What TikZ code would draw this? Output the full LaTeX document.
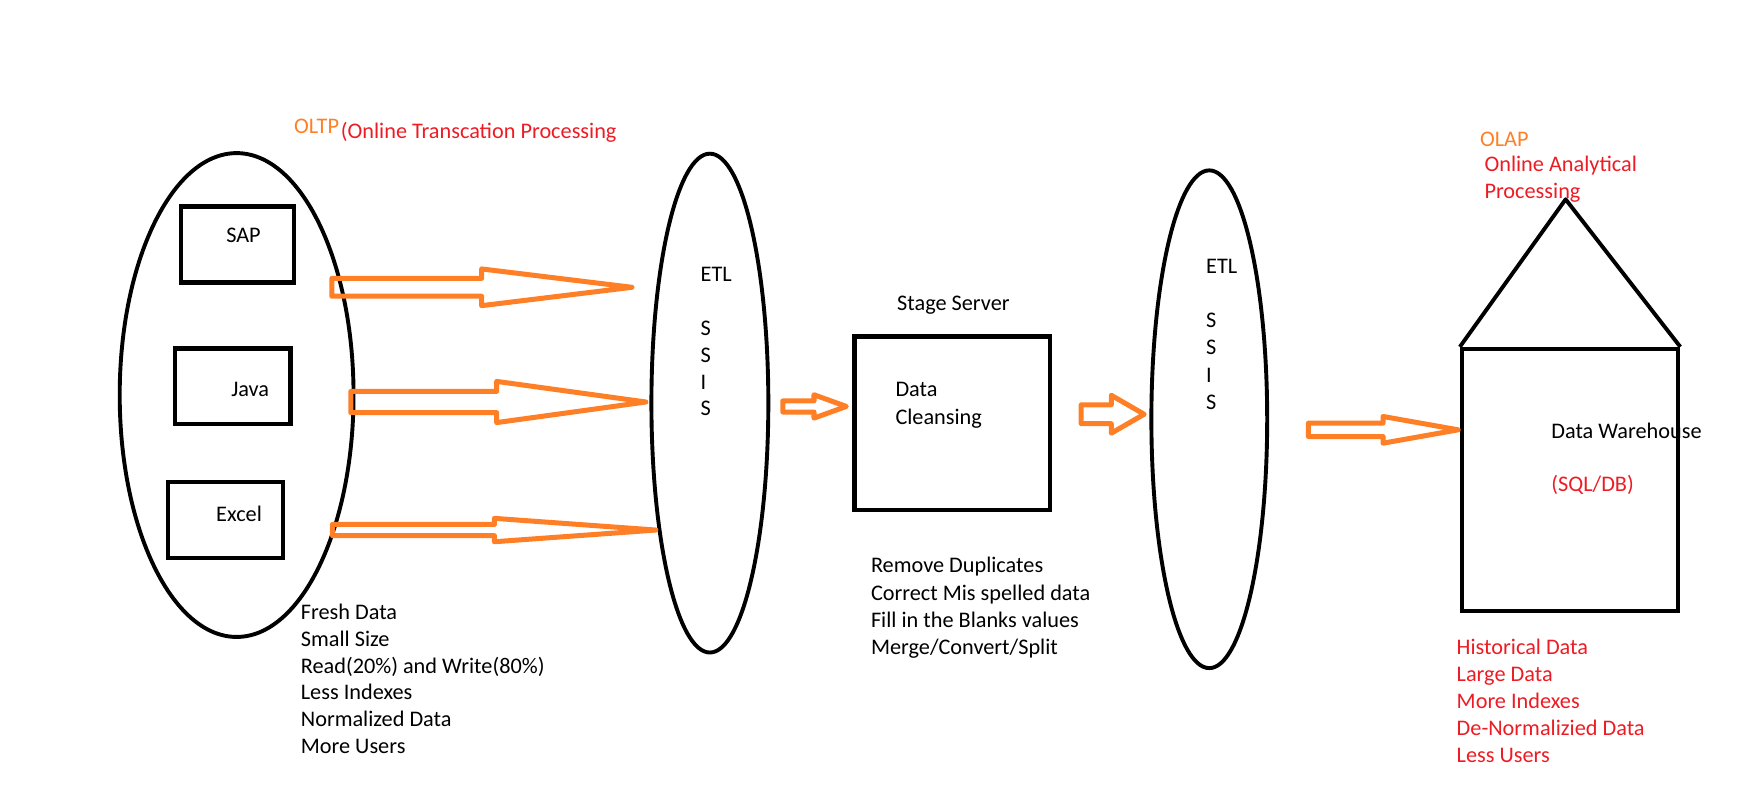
\documentclass[tikz,border=0pt]{standalone}
\usepackage{fontspec}
\setmainfont{Carlito}
\usetikzlibrary{shapes.geometric}
\definecolor{paintorange}{HTML}{FF7F27}
\definecolor{paintred}{HTML}{ED1C24}
\newcommand\blockarr[6]{% x0, x1 (head base), x2 (tip), yc, shaft half, head half
  \draw[blockarrow] (#1,#4+#5) -- (#2,#4+#5) -- (#2,#4+#6) -- (#3,#4) -- (#2,#4-#6) -- (#2,#4-#5) -- (#1,#4-#5) -- cycle;}
\begin{document}
\begin{tikzpicture}[x=1pt,y=-1pt,
  txt/.style={anchor=base west, inner sep=0pt, font=\fontsize{20}{24}\selectfont},
  redtxt/.style={txt, text=paintred},
  orangetxt/.style={txt, text=paintorange},
  oval/.style={ellipse, draw, line width=3.5pt, inner sep=0pt},
  srcbox/.style={rectangle, draw, line width=4pt, inner sep=0pt},
  blockarrow/.style={draw=paintorange, line width=4.5pt, line join=round}
]
\useasboundingbox (0,0) rectangle (1568,705);

% source ellipse and boxes
\node[oval, minimum width=210, minimum height=434.5] (src) at (212.5,354.75) {};
\node[srcbox, minimum width=101.5, minimum height=68] (sapbox) at (213.25,219.6) {};
\node[srcbox, minimum width=104, minimum height=68] (javabox) at (209,347) {};
\node[srcbox, minimum width=103, minimum height=68] (excelbox) at (202.5,467) {};
\node[txt] (sap) at (203,217.5) {SAP};
\node[txt] (java) at (207.5,356.5) {Java};
\node[txt] (excel) at (194,468.5) {Excel};

% OLTP title
\node[orangetxt] (oltp) at (264,120) {OLTP};
\node[redtxt, anchor=base west] (oltpfull) at (306,124) {(Online Transcation Processing};

% OLTP properties
\foreach \t [count=\i] in {Fresh Data, Small Size, Read(20\%) and Write(80\%), Less Indexes, Normalized Data, More Users}
  \node[txt] (oltpprop\i) at (270,556.5+24*\i-24) {\t};

% first ETL
\node[oval, minimum width=105, minimum height=448] (etla) at (637.5,362) {};
\node[txt] (etlaname) at (629,252.5) {ETL};
\foreach \t [count=\i] in {S,S,I,S}
  \node[txt] (etlaletter\i) at (629,301.5+24*\i-24) {\t};

% stage server
\node[srcbox, minimum width=175.5, minimum height=156] (stage) at (855.25,380) {};
\node[txt] (stagename) at (805.5,278.5) {Stage Server};
\node[txt] (dataword) at (804,356.5) {Data};
\node[txt] (cleansing) at (804,381) {Cleansing};
\foreach \t [count=\i] in {Remove Duplicates, Correct Mis spelled data, Fill in the Blanks values, Merge/Convert/Split}
  \node[txt] (stageprop\i) at (782,514.5+24.5*\i-24.5) {\t};

% second ETL
\node[oval, minimum width=104, minimum height=447] (etlb) at (1086,376.5) {};
\node[txt] (etlbname) at (1083,246) {ETL};
\foreach \t [count=\i] in {S,S,I,S}
  \node[txt] (etlbletter\i) at (1083,294.5+24.3*\i-24.3) {\t};

% data warehouse house
\node[srcbox, minimum width=194, minimum height=235] (dw) at (1410,431) {};
\coordinate (apex) at (1406,179);
\draw[line width=3.5pt, line join=round] (dw.north west) -- (apex) -- (dw.north east);
\node[txt] (dwname) at (1393,393.5) {Data Warehouse};
\node[redtxt] (sqldb) at (1393,441.5) {(SQL/DB)};
\node[orangetxt] (olap) at (1329,131.5) {OLAP};
\node[redtxt] (olapa) at (1333,154) {Online Analytical};
\node[redtxt] (olapb) at (1333,178) {Processing};
\foreach \t [count=\i] in {Historical Data, Large Data, More Indexes, De-Normalizied Data, Less Users}
  \node[redtxt] (dwprop\i) at (1308,588+24.2*\i-24.2) {\t};

% block arrows
\blockarr{298}{432.5}{567.5}{258}{8}{16.5}
\blockarr{315}{446}{580}{361}{9.5}{18.5}
\blockarr{298.5}{444}{589}{476}{5}{10.5}
\blockarr{703}{731}{760}{365}{5}{10.5}
\blockarr{971}{998}{1027.5}{372}{8.5}{17}
\blockarr{1175}{1242}{1309.5}{386}{6}{12}
\end{tikzpicture}
\end{document}
